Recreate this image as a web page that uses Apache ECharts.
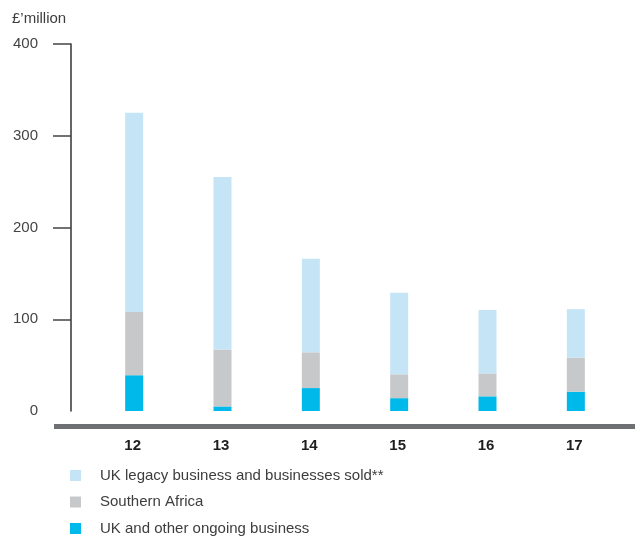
<!DOCTYPE html>
<html>
<head>
<meta charset="utf-8">
<script src="https://cdn.jsdelivr.net/npm/echarts@6/dist/echarts.min.js"></script>
<style>
  html, body { margin: 0; padding: 0; background: #fff; }
  #chart { width: 635px; height: 538px; }
</style>
</head>
<body>
<div id="chart"></div>
<script>
// Financial years shown on the category axis
var years = ['12', '13', '14', '15', '16', '17'];

// Stacked values, £ million (bottom to top)
var ukOngoing = [39, 5, 25, 14, 16, 21];
var southernAfrica = [69, 62, 39, 26, 25, 37];
var ukLegacy = [217, 188, 102, 89, 69, 53];

// Value axis ticks
var yTicks = [100, 200, 300, 400];

var seriesNames = {
  legacy: 'UK legacy business and businesses sold**',
  africa: 'Southern Africa',
  ongoing: 'UK and other ongoing business'
};

var FONT = '"Liberation Sans", Arial, sans-serif';

var chart = echarts.init(document.getElementById('chart'), null, { renderer: 'canvas' });

chart.setOption({
  animation: false,
  backgroundColor: '#ffffff',
  title: {
    text: '£\u2019million',
    left: 12,
    top: 11,
    padding: 0,
    textStyle: { fontFamily: FONT, fontSize: 15, fontWeight: 'normal', color: '#3d3d3d' }
  },
  grid: { left: 90, right: 15, top: 44, bottom: 127, containLabel: false },
  legend: {
    orient: 'vertical',
    left: 70,
    top: 468,
    padding: 0,
    height: 70,
    itemWidth: 11,
    itemHeight: 11,
    itemGap: 11.5,
    icon: 'rect',
    data: [seriesNames.legacy, seriesNames.africa, seriesNames.ongoing],
    textStyle: {
      fontFamily: FONT,
      fontSize: 15,
      color: '#3d3d3d',
      lineHeight: 15,
      padding: [0, 0, 0, 14]
    }
  },
  xAxis: {
    type: 'category',
    data: years,
    axisLine: { show: false },
    axisTick: { show: false },
    axisLabel: {
      margin: 27,
      fontFamily: FONT,
      fontSize: 15,
      fontWeight: 'bold',
      color: '#1e1e1e',
      padding: [0, 3, 0, 0]
    }
  },
  yAxis: {
    type: 'value',
    min: 0,
    max: 400,
    interval: 100,
    offset: 19,
    axisLine: { show: true, lineStyle: { color: '#333333', width: 1.5 } },
    axisTick: {
      show: true,
      length: 18,
      customValues: yTicks,
      lineStyle: { color: '#444444', width: 1.5 }
    },
    axisLabel: {
      margin: 33,
      fontFamily: FONT,
      fontSize: 15,
      color: '#444444'
    },
    splitLine: { show: false }
  },
  series: [
    {
      name: seriesNames.ongoing,
      type: 'bar',
      stack: 'total',
      barWidth: 18,
      itemStyle: { color: '#00b9eb' },
      data: ukOngoing
    },
    {
      name: seriesNames.africa,
      type: 'bar',
      stack: 'total',
      barWidth: 18,
      itemStyle: { color: '#c7c8ca' },
      data: southernAfrica
    },
    {
      name: seriesNames.legacy,
      type: 'bar',
      stack: 'total',
      barWidth: 18,
      itemStyle: { color: '#c5e5f7' },
      data: ukLegacy
    }
  ],
  graphic: [
    // Heavy baseline rule under the plot
    {
      type: 'rect',
      left: 54,
      top: 424,
      shape: { width: 581, height: 5 },
      style: { fill: '#6f7073' },
      silent: true
    }
  ]
});
</script>
</body>
</html>
